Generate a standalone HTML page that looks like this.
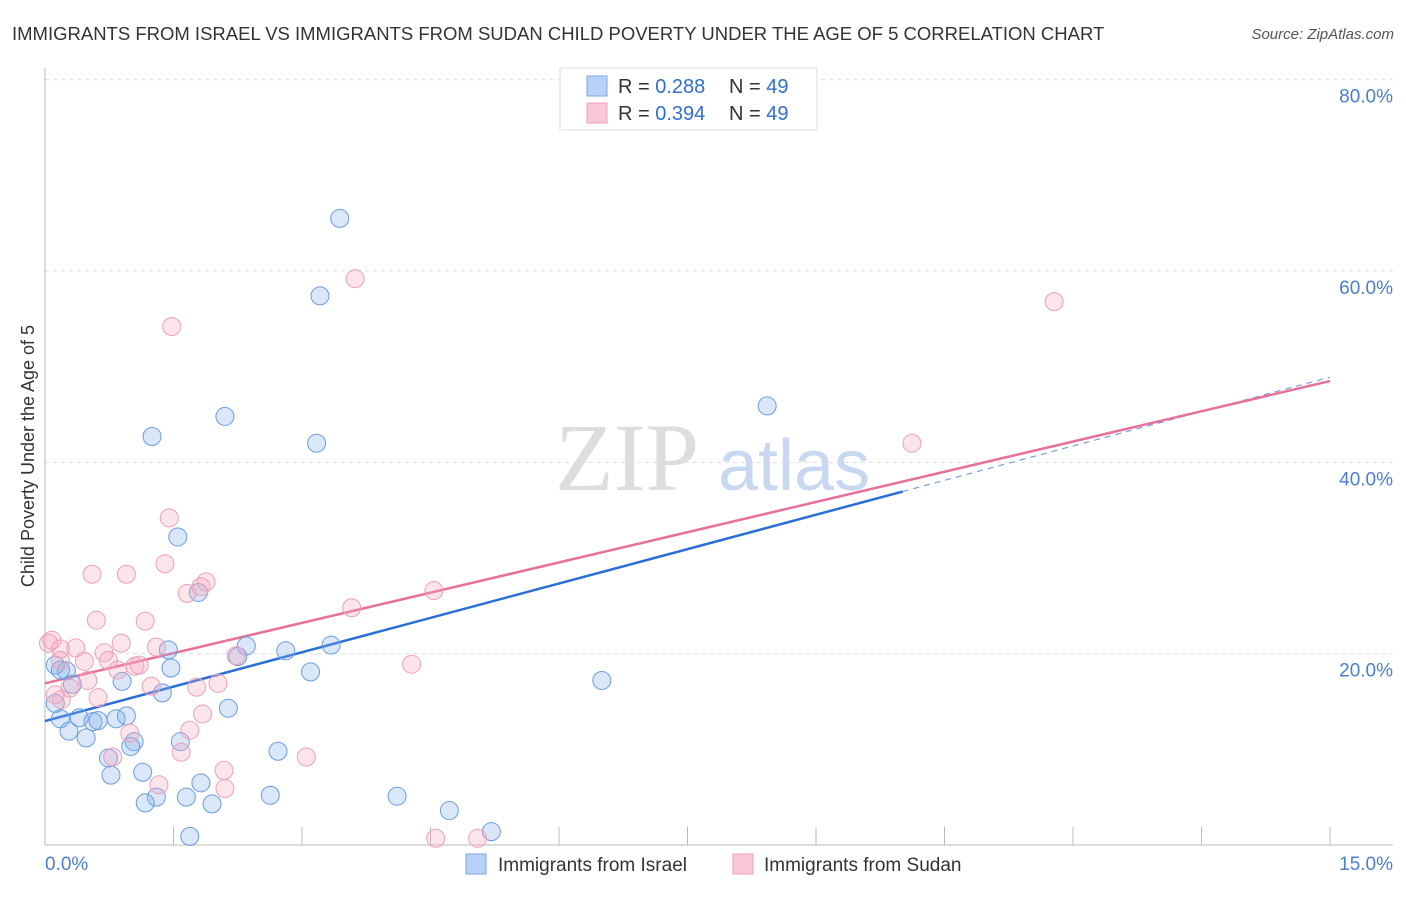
<!DOCTYPE html>
<html><head><meta charset="utf-8"><style>
body{margin:0;background:#fff;font-family:"Liberation Sans",sans-serif;}
svg text{font-family:"Liberation Sans",sans-serif;}
</style></head><body>
<svg id="chart" width="1406" height="892">
<text x="12" y="40" font-size="18.5" fill="#333">IMMIGRANTS FROM ISRAEL VS IMMIGRANTS FROM SUDAN CHILD POVERTY UNDER THE AGE OF 5 CORRELATION CHART</text>
<text x="1394" y="39" font-size="15" fill="#555" text-anchor="end" font-style="italic">Source: ZipAtlas.com</text>
<text x="34" y="456" font-size="18" fill="#333" text-anchor="middle" transform="rotate(-90 34 456)">Child Poverty Under the Age of 5</text>
<g><text x="555" y="490" font-size="96" fill="#ddd" style="font-family:'Liberation Serif',serif">ZIP</text><text x="718" y="490" font-size="72" fill="#c8d8f0">atlas</text></g>
<g id="grid"></g><g id="axes"></g><g id="lines"></g><g id="pts"></g>
<g>
<rect x="560" y="68" width="257" height="62" fill="#fff" stroke="#ddd"/>
<rect x="587" y="76" width="20" height="20" fill="#b7d2f5" stroke="#7aa8e8"/>
<text x="618" y="93" font-size="20" fill="#333">R = <tspan fill="#2f6fd0">0.288</tspan></text>
<text x="729" y="93" font-size="20" fill="#333">N = <tspan fill="#2f6fd0">49</tspan></text>
<rect x="587" y="103" width="20" height="20" fill="#f9c8d6" stroke="#eda0b8"/>
<text x="618" y="120" font-size="20" fill="#333">R = <tspan fill="#2f6fd0">0.394</tspan></text>
<text x="729" y="120" font-size="20" fill="#333">N = <tspan fill="#2f6fd0">49</tspan></text>
</g>
<g>
<rect x="466" y="854" width="20" height="20" fill="#b7d2f5" stroke="#7aa8e8"/>
<text x="498" y="871" font-size="19" fill="#333">Immigrants from Israel</text>
<rect x="733" y="854" width="20" height="20" fill="#f9c8d6" stroke="#eda0b8"/>
<text x="764" y="871" font-size="19" fill="#333">Immigrants from Sudan</text>
</g>
</svg>
<script>
const israelX=[3.44,3.21,1.25,2.10,3.17,8.43,1.55,1.79,1.44,1.47,2.35,2.25,2.81,3.34,3.10,6.50,0.90,1.37,2.14,0.12,0.25,0.32,0.12,0.18,0.28,0.40,0.48,0.56,0.62,0.83,0.95,1.04,1.00,0.74,0.77,1.14,1.58,2.72,1.82,1.95,1.65,1.30,1.17,2.63,4.11,4.72,5.21,1.69,0.18];
const israelY=[65.5,57.4,42.7,44.8,42.0,45.9,32.2,26.4,20.4,18.5,20.8,19.7,20.3,20.9,18.1,17.2,17.1,15.9,14.3,18.8,18.2,16.8,14.8,13.2,11.9,13.3,11.2,12.9,13.0,13.2,13.5,10.8,10.3,9.1,7.3,7.6,10.8,9.8,6.5,4.3,5.0,5.0,4.4,5.2,5.1,3.6,1.4,0.9,18.3];
const sudanX=[3.62,1.48,11.78,10.12,1.45,0.55,0.95,1.40,1.88,1.82,1.66,0.60,1.17,4.54,3.58,0.89,1.30,0.69,0.36,0.18,0.04,0.46,0.74,1.05,1.10,0.85,0.50,0.29,0.19,0.62,1.24,1.77,2.02,2.23,4.28,0.12,1.69,0.99,1.59,0.79,1.84,2.09,2.10,1.33,3.05,4.56,5.05,0.18,0.08];
const sudanY=[59.2,54.2,56.8,42.0,34.2,28.3,28.3,29.4,27.5,27.0,26.3,23.5,23.4,26.6,24.8,21.1,20.7,20.1,20.6,20.5,21.1,19.2,19.3,18.7,18.8,18.3,17.2,16.4,15.2,15.4,16.6,16.5,16.9,19.8,18.9,15.7,12.0,11.7,9.7,9.2,13.7,7.8,5.9,6.3,9.2,0.7,0.7,19.3,21.4];
const yTicks=[20,40,60,80];
const yTickLabels=["20.0%","40.0%","60.0%","80.0%"];
const xTickLabels=["0.0%","15.0%"];
const israelTrend=[12.96,48.9];
const sudanTrend=[16.9,48.5];
const ns="http://www.w3.org/2000/svg";
const X=v=>45+v/15*1285, Y=v=>845-v/80*765.3;
function mk(tag,attrs,parent){const e=document.createElementNS(ns,tag);for(const k in attrs)e.setAttribute(k,attrs[k]);document.getElementById(parent).appendChild(e);return e;}
yTicks.forEach((t,i)=>{
 const g=mk('line',{x1:45,x2:1393,y1:Y(t),y2:Y(t),stroke:'#ddd','stroke-dasharray':'4,4'},'grid');
 
 
 const l=mk('text',{x:1393,y:Y(t)+23,'font-size':19,fill:'#4a7fd0','text-anchor':'end'},'axes');
 l.textContent=yTickLabels[i];
 
 
});
const ax=mk('line',{x1:45,x2:45,y1:68,y2:845,stroke:'#bbb'},'axes');


const bx=mk('line',{x1:45,x2:1393,y1:845,y2:845,stroke:'#bbb'},'axes');


for(let i=1;i<=10;i++){const t=mk('line',{x1:X(i*1.5),x2:X(i*1.5),y1:827,y2:845,stroke:'#bbb'},'axes');
 
 }
[[0,'start',45],[1,'end',1393]].forEach(([i,a,x])=>{const t=mk('text',{x:x,y:870,'font-size':19,fill:'#4a7fd0','text-anchor':a},'axes');t.textContent=xTickLabels[i];
 
 });
const bxEnd=7.5*1.335;
const l1=mk('line',{x1:X(0),y1:Y(israelTrend[0]),x2:X(bxEnd),y2:Y(israelTrend[0]+(israelTrend[1]-israelTrend[0])*bxEnd/15),stroke:'#2a6fd6','stroke-width':2.5},'lines');


const l1d=mk('line',{x1:X(bxEnd),y1:Y(israelTrend[0]+(israelTrend[1]-israelTrend[0])*bxEnd/15),x2:X(15),y2:Y(israelTrend[1]),stroke:'#7aa0d8','stroke-width':1.2,'stroke-dasharray':'6,5'},'lines');


const l2=mk('line',{x1:X(0),y1:Y(sudanTrend[0]),x2:X(15),y2:Y(sudanTrend[1]),stroke:'#e8709a','stroke-width':2.5},'lines');


israelX.forEach((v,i)=>{const c=mk('circle',{cx:X(v),cy:Y(israelY[i]),r:9,fill:'rgba(130,175,235,0.3)',stroke:'#6a9de0','stroke-width':1},'pts');
 
 });
sudanX.forEach((v,i)=>{const c=mk('circle',{cx:X(v),cy:Y(sudanY[i]),r:9,fill:'rgba(245,165,190,0.3)',stroke:'#eda0b8','stroke-width':1},'pts');
 
 });
</script>
</body></html>
